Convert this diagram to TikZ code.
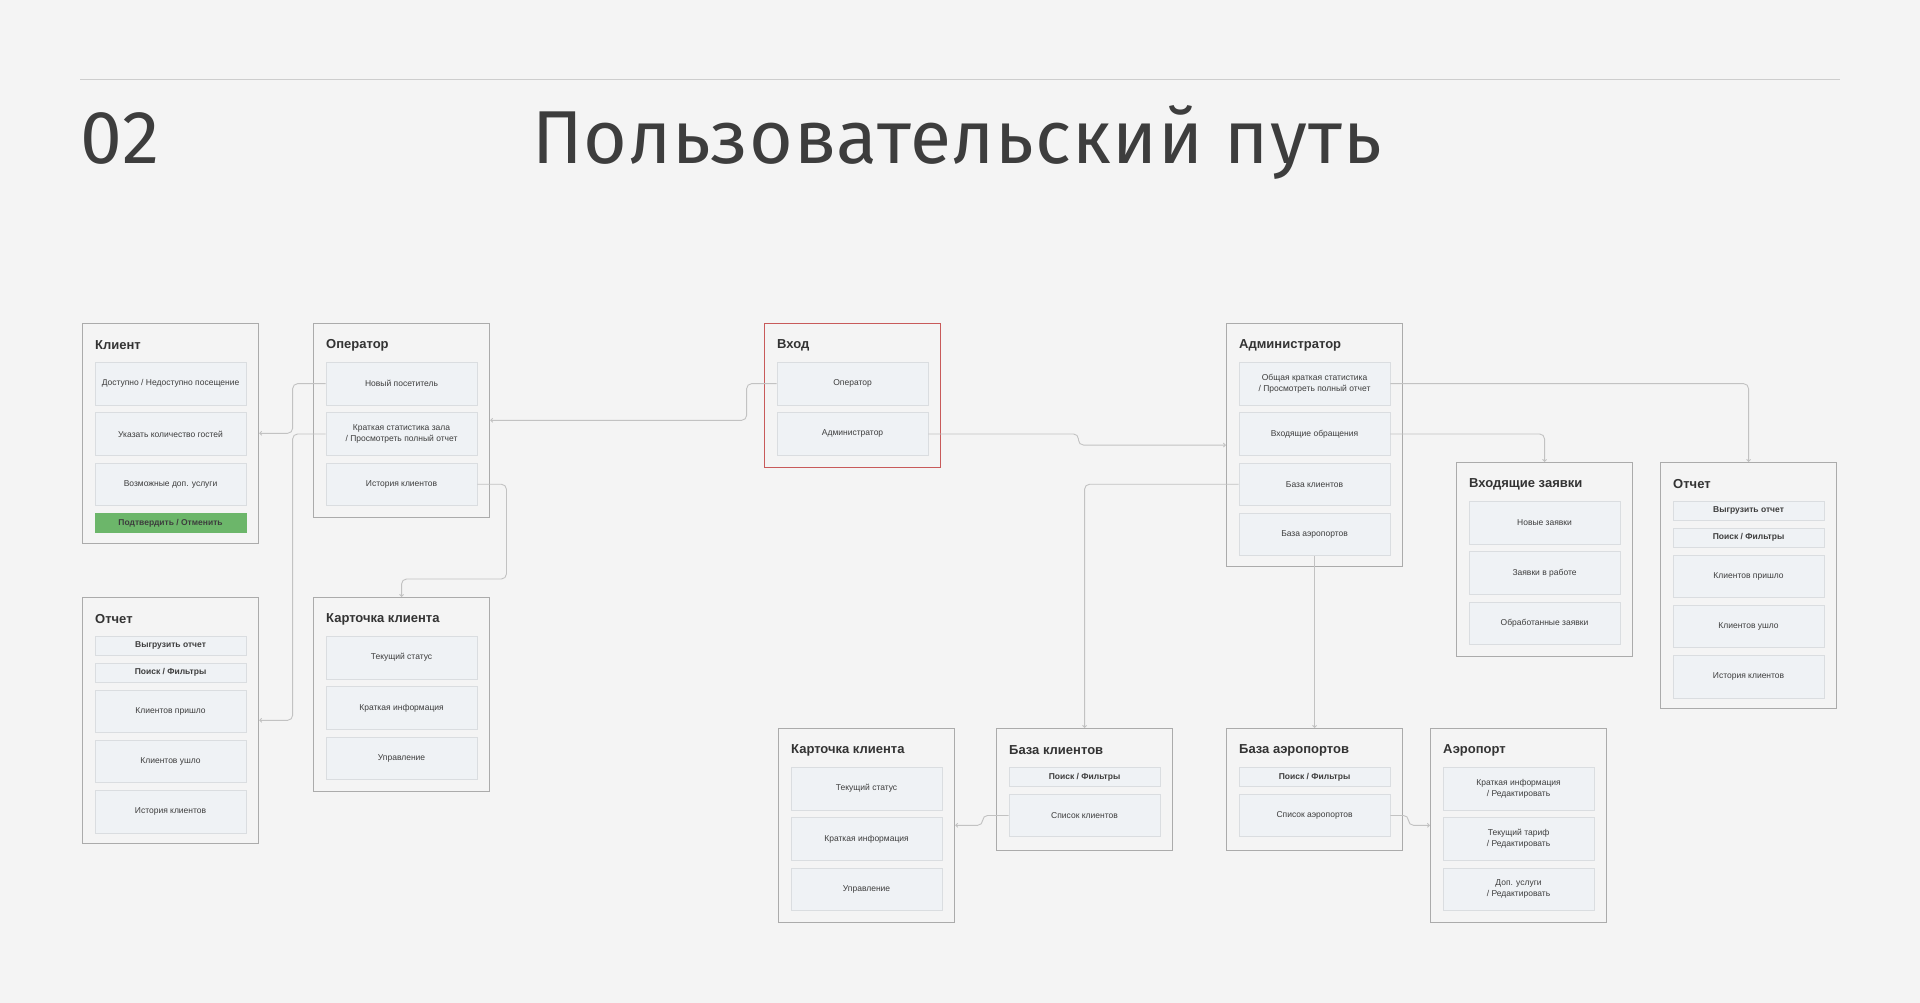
\documentclass[tikz,border=0pt]{standalone}
\usepackage{fontspec}
\setmainfont{Liberation Sans}
\newfontfamily\headfont[LetterSpace=1.5]{Fira Sans}
\usetikzlibrary{arrows.meta,positioning}
\definecolor{bg}{HTML}{F4F4F4}
\definecolor{ink}{HTML}{333333}
\definecolor{panelgray}{HTML}{ABABAB}
\definecolor{itemline}{HTML}{DADDE0}
\definecolor{itemfill}{HTML}{EFF2F5}
\definecolor{wire}{HTML}{C2C2C2}
\definecolor{okgreen}{HTML}{6CB66A}
\definecolor{entryred}{HTML}{C85A5A}
\tikzset{
  panel/.style = {draw=panelgray, line width=1.1pt, minimum width=176pt, anchor=north west, inner sep=0pt},
  item/.style  = {draw=itemline, fill=itemfill, line width=0.8pt, minimum width=151pt, minimum height=42.5pt,
                  inner sep=1pt, align=center, text=ink!95, font=\fontsize{8.5}{11}\selectfont},
  slim/.style  = {item, minimum height=19pt, font=\fontsize{8.5}{10.5}\selectfont\bfseries},
  head/.style  = {anchor=west, inner sep=0pt, text=ink, font=\fontsize{13}{15}\selectfont\bfseries},
  line/.style  = {-{Straight Barb[length=2pt,width=4pt]}, draw=wire, line width=0.9pt, rounded corners=5pt},
}

\begin{document}
\begin{tikzpicture}[x=1pt,y=-1pt]
  \fill[bg] (0,0) rectangle (1920,1003);
  \useasboundingbox (0,0) rectangle (1920,1003);
  \draw[draw=panelgray!60, line width=1pt] (80,80) -- (1840,80);
  \node[anchor=base west, inner sep=0pt, text=ink!95, font=\headfont\fontsize{75}{80}\selectfont] (num) at (80,164) {02};
  \node[anchor=base west, inner sep=0pt, text=ink!95, font=\headfont\fontsize{75}{80}\selectfont] (title) at (532,164) {Пользовательский путь};

  \node[panel, minimum height=219.5pt] (klient) at (82,323) {};
  \node[head] at ([shift={(13pt,-22pt)}]klient.north west) {Клиент};
  \node[item, below=39pt of klient.north] (k1) {Доступно / Недоступно посещение};
  \node[item, below=7pt of k1] (k2) {Указать количество гостей};
  \node[item, below=7pt of k2] (k3) {Возможные доп. услуги};
  \node[slim, fill=okgreen, draw=okgreen, below=7pt of k3] (k4) {Подтвердить / Отменить};

  \node[panel, minimum height=193.5pt] (oper) at (313,323) {};
  \node[head] at ([shift={(13pt,-22pt)}]oper.north west) {Оператор};
  \node[item, below=39pt of oper.north] (o1) {Новый посетитель};
  \node[item, below=7pt of o1] (o2) {Краткая статистика зала\\/ Просмотреть полный отчет};
  \node[item, below=7pt of o2] (o3) {История клиентов};

  \node[panel, minimum height=245.5pt] (repL) at (82,597) {};
  \node[head] at ([shift={(13pt,-22pt)}]repL.north west) {Отчет};
  \node[slim, below=39pt of repL.north] (rl1) {Выгрузить отчет};
  \node[slim, below=7pt of rl1] (rl2) {Поиск / Фильтры};
  \node[item, below=7pt of rl2] (rl3) {Клиентов пришло};
  \node[item, below=7pt of rl3] (rl4) {Клиентов ушло};
  \node[item, below=7pt of rl4] (rl5) {История клиентов};

  \node[panel, minimum height=193.5pt] (cardL) at (313,597) {};
  \node[head] at ([shift={(13pt,-22pt)}]cardL.north west) {Карточка клиента};
  \node[item, below=39pt of cardL.north] (cl1) {Текущий статус};
  \node[item, below=7pt of cl1] (cl2) {Краткая информация};
  \node[item, below=7pt of cl2] (cl3) {Управление};

  \node[panel, draw=entryred, minimum height=144pt] (entry) at (764,323) {};
  \node[head] at ([shift={(13pt,-22pt)}]entry.north west) {Вход};
  \node[item, below=39pt of entry.north] (e1) {Оператор};
  \node[item, below=7pt of e1] (e2) {Администратор};

  \node[panel, minimum height=243pt] (admin) at (1226,323) {};
  \node[head] at ([shift={(13pt,-22pt)}]admin.north west) {Администратор};
  \node[item, below=39pt of admin.north] (a1) {Общая краткая статистика\\/ Просмотреть полный отчет};
  \node[item, below=7pt of a1] (a2) {Входящие обращения};
  \node[item, below=7pt of a2] (a3) {База клиентов};
  \node[item, below=7pt of a3] (a4) {База аэропортов};

  \node[panel, minimum height=193.5pt] (inbox) at (1456,462) {};
  \node[head] at ([shift={(13pt,-22pt)}]inbox.north west) {Входящие заявки};
  \node[item, below=39pt of inbox.north] (i1) {Новые заявки};
  \node[item, below=7pt of i1] (i2) {Заявки в работе};
  \node[item, below=7pt of i2] (i3) {Обработанные заявки};

  \node[panel, minimum height=245.5pt] (repR) at (1660,462) {};
  \node[head] at ([shift={(13pt,-22pt)}]repR.north west) {Отчет};
  \node[slim, below=39pt of repR.north] (rr1) {Выгрузить отчет};
  \node[slim, below=7pt of rr1] (rr2) {Поиск / Фильтры};
  \node[item, below=7pt of rr2] (rr3) {Клиентов пришло};
  \node[item, below=7pt of rr3] (rr4) {Клиентов ушло};
  \node[item, below=7pt of rr4] (rr5) {История клиентов};

  \node[panel, minimum height=193.5pt] (cardB) at (778,728) {};
  \node[head] at ([shift={(13pt,-22pt)}]cardB.north west) {Карточка клиента};
  \node[item, below=39pt of cardB.north] (cb1) {Текущий статус};
  \node[item, below=7pt of cb1] (cb2) {Краткая информация};
  \node[item, below=7pt of cb2] (cb3) {Управление};

  \node[panel, minimum height=121.5pt] (clients) at (996,728) {};
  \node[head] at ([shift={(13pt,-22pt)}]clients.north west) {База клиентов};
  \node[slim, below=39pt of clients.north] (c1) {Поиск / Фильтры};
  \node[item, below=7pt of c1] (c2) {Список клиентов};

  \node[panel, minimum height=121.5pt] (ports) at (1226,728) {};
  \node[head] at ([shift={(13pt,-22pt)}]ports.north west) {База аэропортов};
  \node[slim, below=39pt of ports.north] (p1) {Поиск / Фильтры};
  \node[item, below=7pt of p1] (p2) {Список аэропортов};

  \node[panel, minimum height=193.5pt] (port) at (1430,728) {};
  \node[head] at ([shift={(13pt,-22pt)}]port.north west) {Аэропорт};
  \node[item, below=39pt of port.north] (pt1) {Краткая информация\\/ Редактировать};
  \node[item, below=7pt of pt1] (pt2) {Текущий тариф\\/ Редактировать};
  \node[item, below=7pt of pt2] (pt3) {Доп. услуги\\/ Редактировать};

  \draw[line] (o1.west) -- ++(-33pt,0) |- (klient.east);
  \draw[line] (o2.west) -- ++(-33pt,0) |- (repL.east);
  \draw[line] (o3.east) -- ++(29pt,0) |- ([yshift=18pt]cardL.north) -- (cardL.north);
  \draw[line] (e1.west) -- ++(-30pt,0) |- (oper.east);
  \draw[line] (e2.east) -- ++(150pt,0) |- (admin.west);
  \draw[line] (a1.east) -| (repR.north);
  \draw[line] (a2.east) -| (inbox.north);
  \draw[line] (a3.west) -| (clients.north);
  \draw[line] (a4.south) -- (ports.north);
  \draw[line] (c2.west) -- ++(-26pt,0) |- (cardB.east);
  \draw[line] (p2.east) -- ++(18pt,0) |- (port.west);
\end{tikzpicture}
\end{document}
